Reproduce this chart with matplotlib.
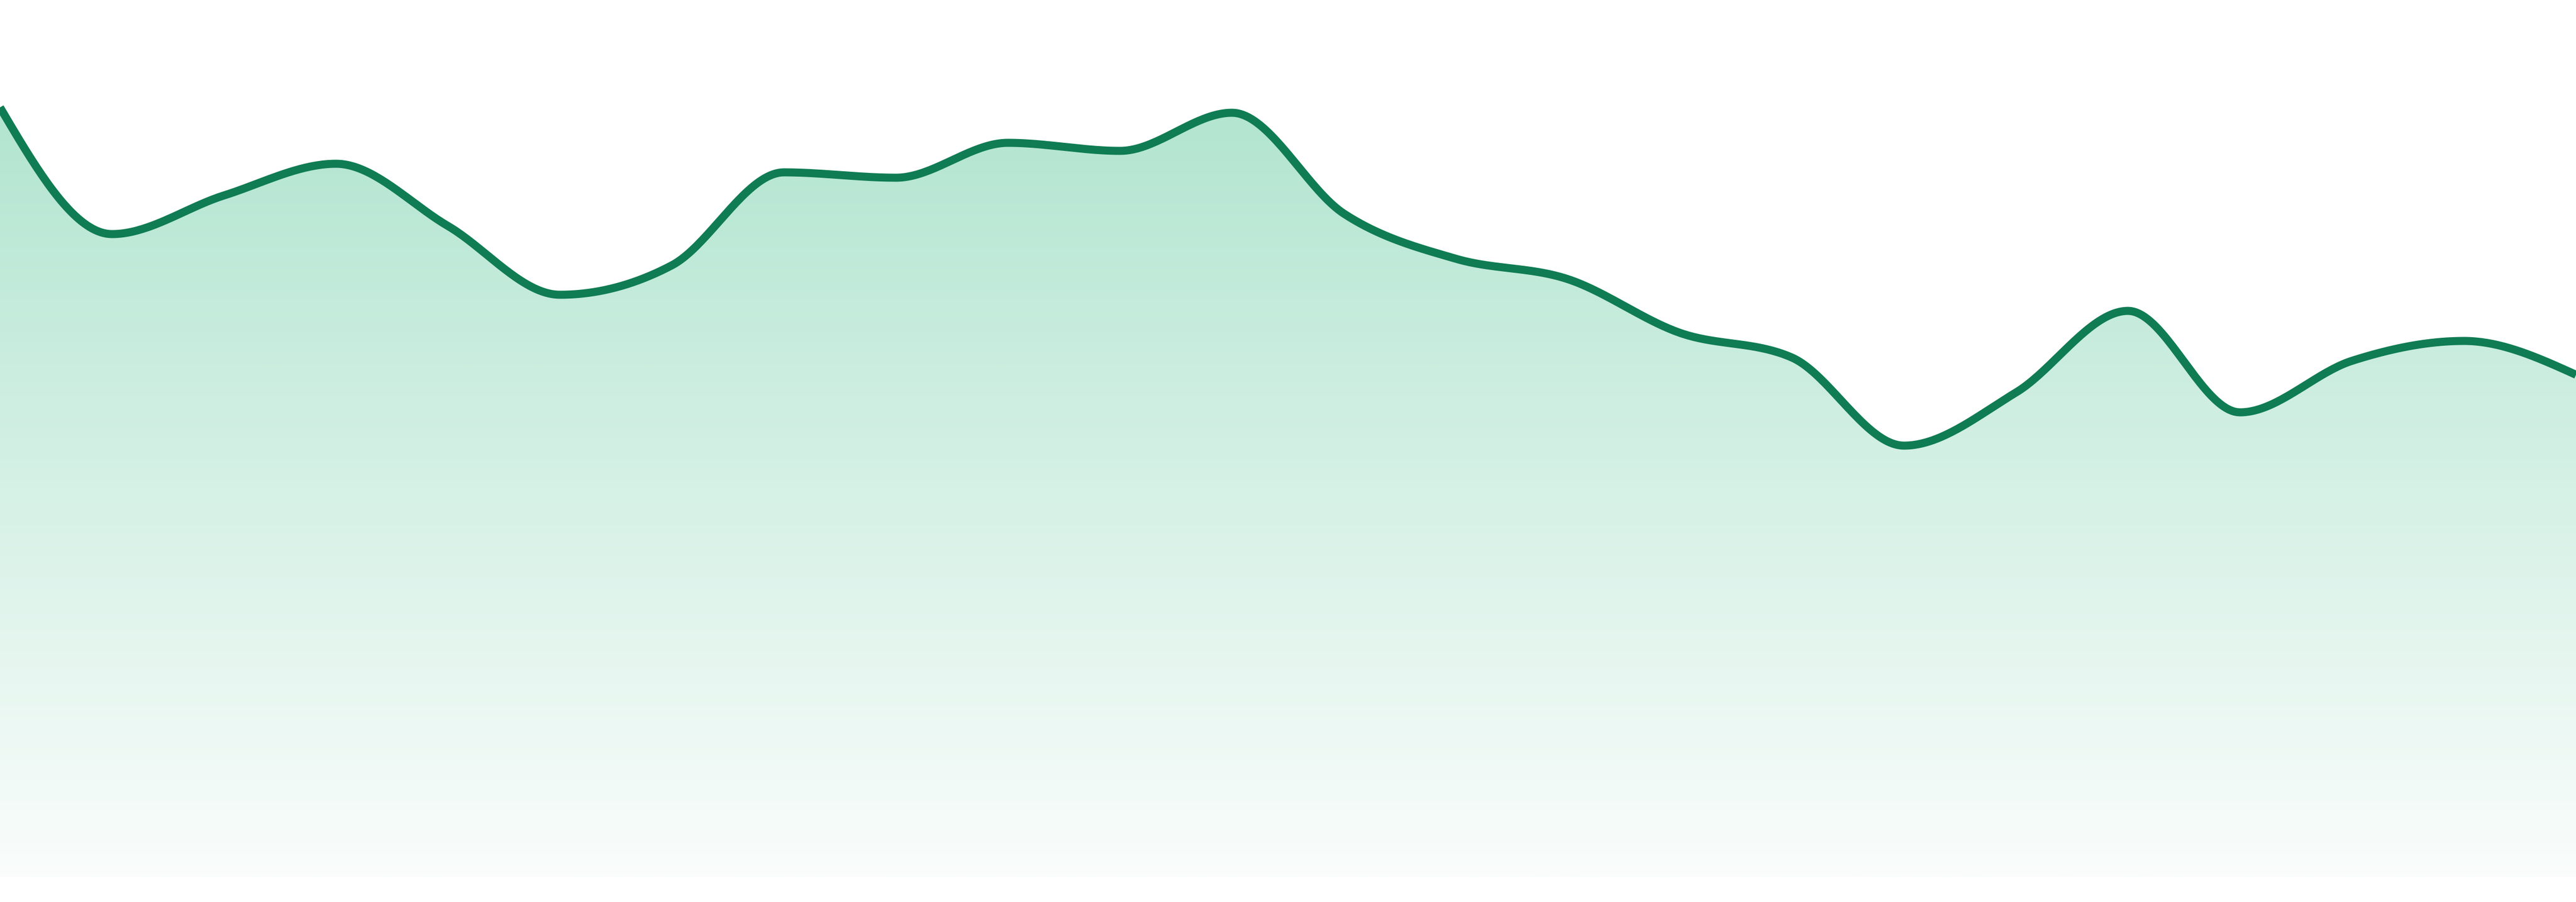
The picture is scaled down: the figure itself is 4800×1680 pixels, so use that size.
import numpy as np
import matplotlib
matplotlib.use('Agg')
import matplotlib.pyplot as plt
from matplotlib.colors import LinearSegmentedColormap

# series values (height above the baseline), 24 evenly spaced samples
values = [1433, 1197, 1269, 1328, 1212, 1084, 1139, 1312, 1302, 1367, 1352, 1423,
          1235, 1151, 1113, 1013, 967, 803, 902, 1054, 865, 961, 998, 935]
positions = list(range(len(values)))

line_color = '#107c53'
fill_top = '#b2e5d0'
fill_bottom = '#fafdfc'


def monotone_x(x, y, steps=40):
    # monotone cubic interpolation (same idea as d3.curveMonotoneX)
    x = np.asarray(x, float)
    y = np.asarray(y, float)
    n = len(x)
    h = np.diff(x)
    s = np.diff(y) / h
    t = np.zeros(n)
    for i in range(1, n - 1):
        p = (s[i - 1] * h[i] + s[i] * h[i - 1]) / (h[i - 1] + h[i])
        t[i] = (np.sign(s[i - 1]) + np.sign(s[i])) * min(abs(s[i - 1]), abs(s[i]), 0.5 * abs(p))
    t[0] = (3 * s[0] - t[1]) / 2
    t[-1] = (3 * s[-1] - t[-2]) / 2
    xs, ys = [], []
    for i in range(n - 1):
        u = np.linspace(0, 1, steps, endpoint=(i == n - 2))
        h00 = 2 * u**3 - 3 * u**2 + 1
        h10 = u**3 - 2 * u**2 + u
        h01 = -2 * u**3 + 3 * u**2
        h11 = u**3 - u**2
        xs.append(x[i] + u * h[i])
        ys.append(h00 * y[i] + h10 * h[i] * t[i] + h01 * y[i + 1] + h11 * h[i] * t[i + 1])
    return np.concatenate(xs), np.concatenate(ys)


xs, ys = monotone_x(positions, values)

fig = plt.figure(figsize=(24, 8.4), dpi=200)
ax = fig.add_axes([0, 47 / 1680, 1, 1633 / 1680])
ax.set_xlim(positions[0], positions[-1])
ax.set_ylim(0, 1633)
ax.axis('off')

# gradient fill under the curve
area = ax.fill_between(xs, ys, 0, color='none', linewidth=0)
cmap = LinearSegmentedColormap.from_list('g', [fill_bottom, fill_top])
grad = np.linspace(0, 1, 512).reshape(-1, 1)
img = ax.imshow(grad, cmap=cmap, aspect='auto', origin='lower',
                extent=[positions[0], positions[-1], 0, max(values)], zorder=1)
path = area.get_paths()[0]
img.set_clip_path(path, transform=ax.transData)

ax.plot(xs, ys, color=line_color, linewidth=5.4, solid_capstyle='butt', zorder=2)

fig.savefig('out.png', dpi=200, facecolor='white')
